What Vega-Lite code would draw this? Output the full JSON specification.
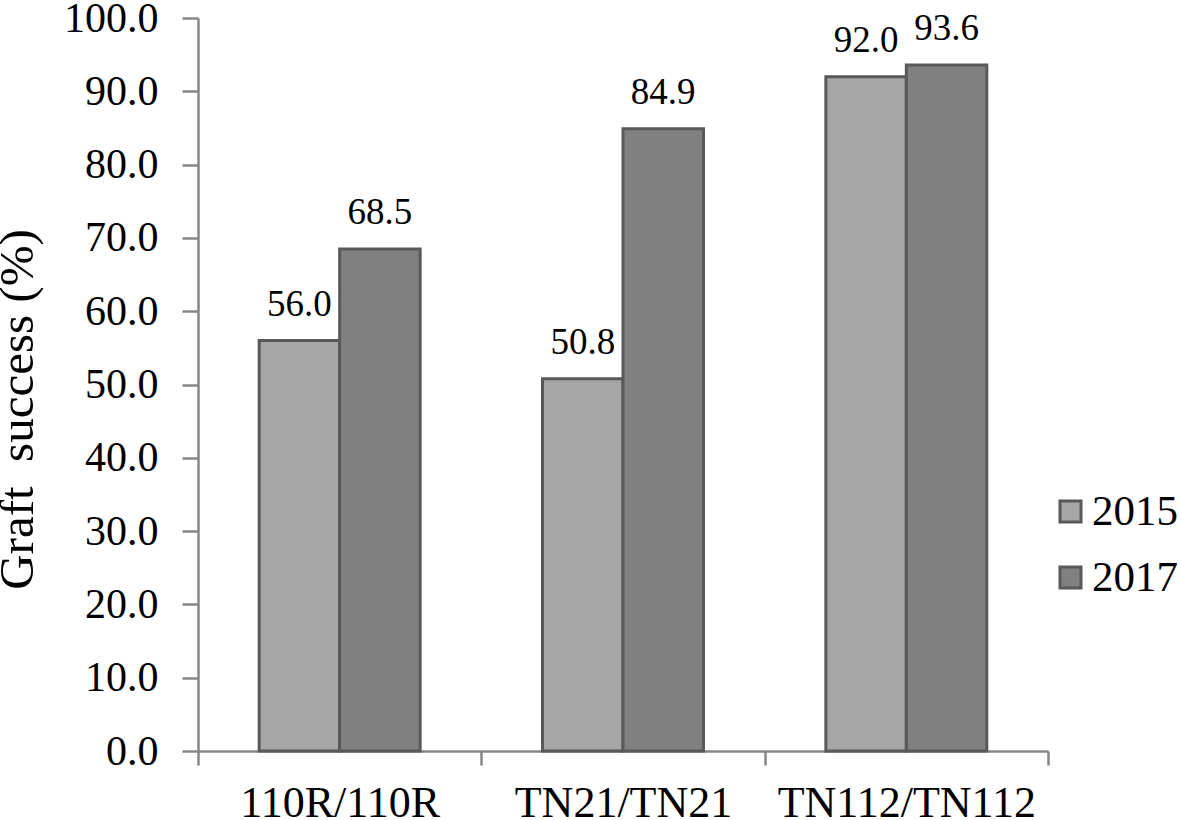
{
  "$schema": "https://vega.github.io/schema/vega-lite/v6.json",
  "autosize": "none",
  "width": 850,
  "height": 733,
  "padding": {"left": 198, "top": 18, "right": 133, "bottom": 69},
  "background": "white",
  "config": {
    "view": {"stroke": null},
    "font": "Liberation Serif, Times New Roman, serif"
  },
  "data": {
    "values": [
      {"graft": "110R/110R", "year": "2015", "success": 56.0},
      {"graft": "110R/110R", "year": "2017", "success": 68.5},
      {"graft": "TN21/TN21", "year": "2015", "success": 50.8},
      {"graft": "TN21/TN21", "year": "2017", "success": 84.9},
      {"graft": "TN112/TN112", "year": "2015", "success": 92.0},
      {"graft": "TN112/TN112", "year": "2017", "success": 93.6}
    ]
  },
  "encoding": {
    "x": {
      "field": "graft",
      "type": "nominal",
      "sort": null,
      "scale": {"paddingInner": 0, "paddingOuter": 0},
      "axis": {
        "title": null,
        "labelAngle": 0,
        "labelFont": "Liberation Serif, Times New Roman, serif",
        "labelFontSize": 44,
        "labelColor": "black",
        "labelPadding": 16,
        "labelLimit": 0,
        "tickBand": "extent",
        "tickSize": 14,
        "tickColor": "#868686",
        "tickWidth": 2.5,
        "domainColor": "#868686",
        "domainWidth": 2.5
      }
    },
    "xOffset": {
      "field": "year",
      "type": "nominal",
      "scale": {"paddingInner": 0, "paddingOuter": 0.76}
    },
    "y": {
      "field": "success",
      "type": "quantitative",
      "scale": {"domain": [0, 100], "nice": false},
      "axis": {
        "title": "Graft\u00a0\u00a0success (%)",
        "titleFont": "Liberation Serif, Times New Roman, serif",
        "titleFontSize": 49,
        "titleFontWeight": "normal",
        "titleColor": "black",
        "titlePadding": 21,
        "titleY": 391,
        "values": [0, 10, 20, 30, 40, 50, 60, 70, 80, 90, 100],
        "format": ".1f",
        "labelFont": "Liberation Serif, Times New Roman, serif",
        "labelFontSize": 42,
        "labelColor": "black",
        "labelPadding": 24,
        "tickSize": 16,
        "tickColor": "#868686",
        "tickWidth": 2.5,
        "domainColor": "#868686",
        "domainWidth": 2.5,
        "grid": false
      }
    }
  },
  "layer": [
    {
      "mark": {"type": "bar", "stroke": "#595959", "strokeWidth": 3},
      "encoding": {
        "color": {
          "field": "year",
          "type": "nominal",
          "scale": {"domain": ["2015", "2017"], "range": ["#a6a6a6", "#808080"]},
          "legend": {
            "title": null,
            "orient": "none",
            "legendX": 851,
            "legendY": 472,
            "symbolType": "square",
            "symbolSize": 441,
            "symbolStrokeColor": "#595959",
            "symbolStrokeWidth": 3,
            "labelFont": "Liberation Serif, Times New Roman, serif",
            "labelFontSize": 43,
            "labelColor": "black",
            "labelOffset": 0,
            "rowPadding": 22
          }
        }
      }
    },
    {
      "mark": {"type": "text", "baseline": "alphabetic", "dy": -25, "fontSize": 37, "font": "Liberation Serif, Times New Roman, serif", "color": "black"},
      "encoding": {
        "text": {"field": "success", "type": "quantitative", "format": ".1f"}
      }
    }
  ]
}
